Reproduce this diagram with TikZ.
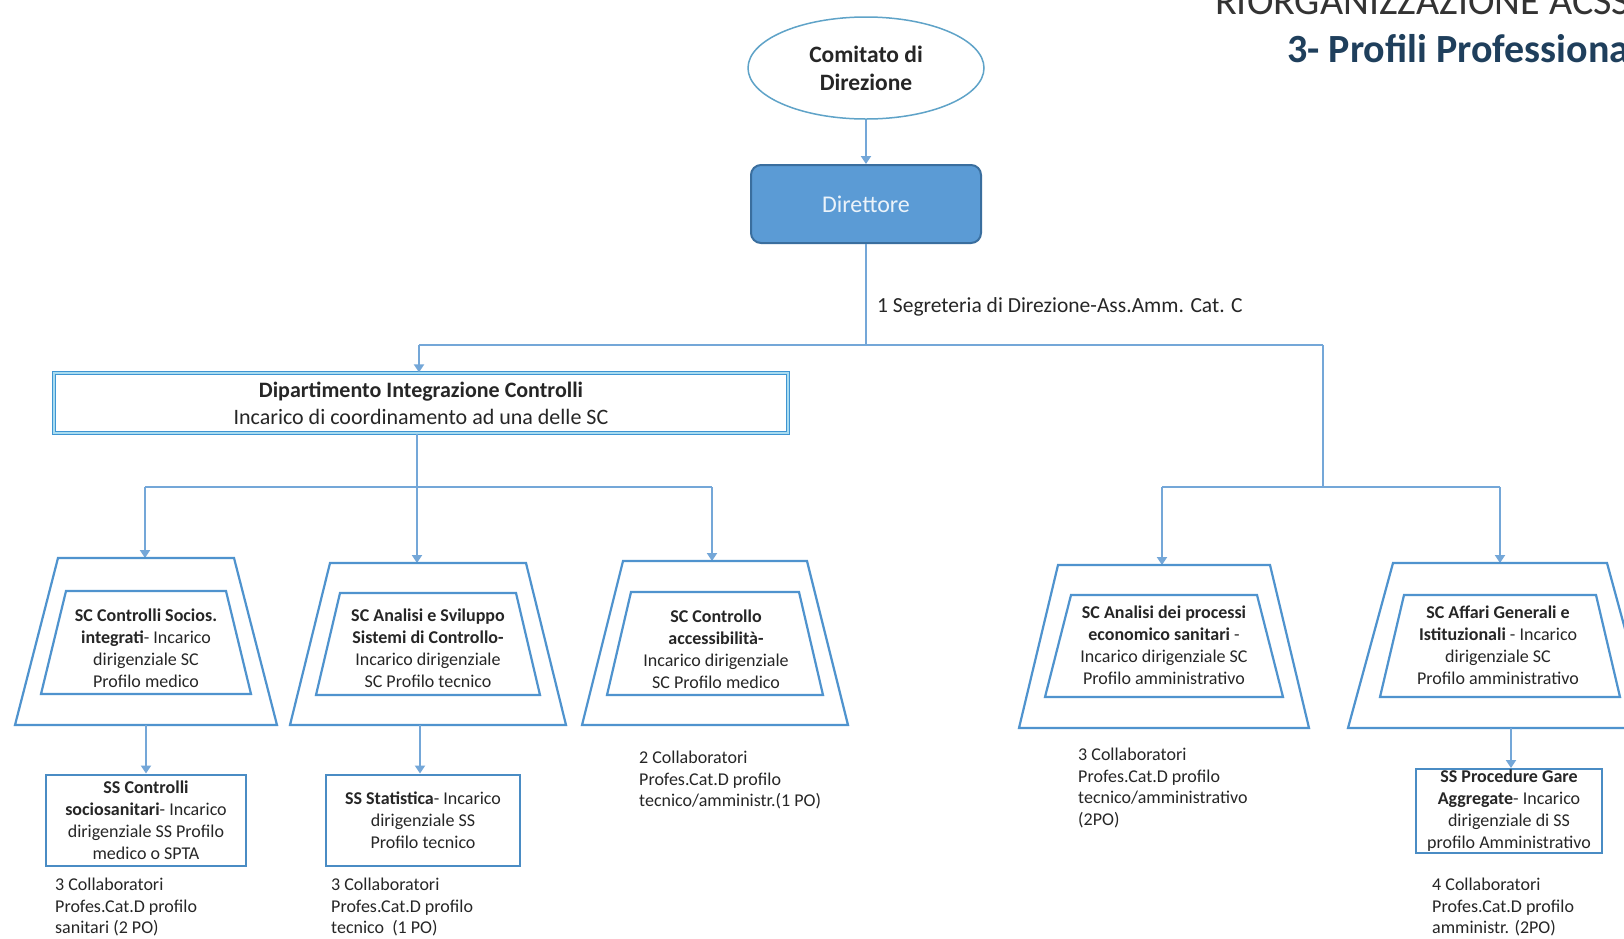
\documentclass[tikz,border=0pt]{standalone}
\usepackage{fontspec}
\setmainfont{Carlito}
\usetikzlibrary{arrows.meta,shapes.geometric}
\definecolor{lineblue}{HTML}{74A7D8}
\definecolor{trapblue}{HTML}{4F93CE}
\definecolor{boxblue}{HTML}{4A8CC4}
\definecolor{dipblue}{HTML}{3F95D2}
\definecolor{dipcyan}{HTML}{A9DCF0}
\definecolor{dirfill}{HTML}{5B9BD5}
\definecolor{dirdraw}{HTML}{3A6E9E}
\definecolor{ellblue}{HTML}{5FA3C8}
\definecolor{txt}{HTML}{262626}
\definecolor{titleblue}{HTML}{1F3F5C}
\newcommand\fs[2]{\fontsize{#1}{#2}\selectfont}
\newcommand\trapz[5]{% cx, top y, bottom y, top half width, bottom half width
  \draw[trapline] ({#1-#4},#2) -- ({#1+#4},#2) -- ({#1+#5},#3) -- ({#1-#5},#3) -- cycle;}
\begin{document}
\begin{tikzpicture}[x=1pt,y=-1pt,
  conn/.style={draw=lineblue,line width=2},
  arr/.style={conn,-{Triangle[length=8,width=10]}},
  trapline/.style={draw=trapblue,line width=2.2,line join=miter},
  intext/.style={align=center,font=\fs{18}{22},text=txt,inner sep=0},
  note/.style={align=left,font=\fs{18}{21.5},text=txt,anchor=north west,inner sep=0},
  ssbox/.style={draw=boxblue,line width=2,align=center,font=\fs{18}{22},text=txt,inner sep=0},
]
\useasboundingbox (0,0) rectangle (1624,938);
\fill[white] (0,0) rectangle (1624,938);

% title
\node[anchor=base west,font=\fs{40}{44},text=black!80,inner sep=0] (title1) at (1215,14) {RIORGANIZZAZIONE ACSS};
\node[anchor=base west,font=\bfseries\fs{40}{44},text=titleblue,inner sep=0] (title2) at (1287,62) {3- Profili Professionali};

% top
\node[ellipse,draw=ellblue,line width=1.5,minimum width=236,minimum height=102,inner sep=0,
      font=\bfseries\fs{23.5}{28},align=center,text=txt] (com) at (866,68) {Comitato di\\Direzione};
\node[rounded corners=10,fill=dirfill,draw=dirdraw,line width=2,minimum width=230,minimum height=78,
      text=white!88!dirfill,font=\fs{24}{28}] (dir) at (866,204) {Direttore};
\draw[arr] (com) -- (dir);

\coordinate (jm) at (866,345);
\coordinate (jl) at (419,345);
\coordinate (jr) at (1323,345);
\draw[conn] (dir) -- (jm);
\draw[conn] (jl) -- (jr);
\node[anchor=west,font=\fs{21.5}{25},inner sep=0,text=txt] (seg) at (877,307) {1 Segreteria di Direzione-Ass.Amm. Cat. C};

% Dipartimento
\node[draw=dipblue,line width=1.3,double=dipcyan,double distance=1.4,minimum width=734,minimum height=60,
      align=center,font=\fs{22}{27},text=txt,inner sep=0] (dip) at (421,403)
      {\textbf{Dipartimento Integrazione Controlli}\\Incarico di coordinamento ad una delle SC};
\draw[arr] (jl) -- (jl |- dip.north);

% left group connectors
\coordinate (dl) at (417,487);
\coordinate (gl1) at (145,487);
\coordinate (gl3) at (712,487);
\draw[conn] (dip.south -| dl) -- (dl);
\draw[conn] (gl1) -- (gl3);
\coordinate (tr1top) at (145,558);
\coordinate (tr2top) at (417,563);
\coordinate (tr3top) at (712,561);
\draw[arr] (gl1) -- (tr1top);
\draw[arr] (dl) -- (tr2top);
\draw[arr] (gl3) -- (tr3top);

% right group connectors
\coordinate (jr2) at (1323,487);
\coordinate (gr1) at (1162,487);
\coordinate (gr2) at (1500,487);
\draw[conn] (jr) -- (jr2);
\draw[conn] (gr1) -- (gr2);
\coordinate (tr4top) at (1162,565);
\coordinate (tr5top) at (1500,563);
\draw[arr] (gr1) -- (tr4top);
\draw[arr] (gr2) -- (tr5top);

% trapezoids
\trapz{146}{558}{725}{88}{131}
\trapz{146}{591}{694}{80}{105}
\trapz{428}{563}{725}{98}{138}
\trapz{428}{593}{695}{88}{112}
\trapz{715}{561}{725}{92}{133}
\trapz{715}{592}{695}{84}{108}
\trapz{1164}{565}{728}{106}{145}
\trapz{1164}{595}{697}{93}{119}
\trapz{1500}{563}{728}{107}{152}
\trapz{1500}{595}{697}{96}{120}

\node[intext] (sc1) at (146,648) {\textbf{SC Controlli Socios.}\\\textbf{integrati}- Incarico\\dirigenziale SC\\Profilo medico};
\node[intext] (sc2) at (428,648) {\textbf{SC Analisi e Sviluppo}\\\textbf{Sistemi di Controllo-}\\Incarico dirigenziale\\SC Profilo tecnico};
\node[intext] (sc3) at (716,649) {\textbf{SC Controllo}\\\textbf{accessibilità-}\\Incarico dirigenziale\\SC Profilo medico};
\node[intext] (sc4) at (1164,645) {\textbf{SC Analisi dei processi}\\\textbf{economico sanitari} -\\Incarico dirigenziale SC\\Profilo amministrativo};
\node[intext] (sc5) at (1498,645) {\textbf{SC Affari Generali e}\\\textbf{Istituzionali} - Incarico\\dirigenziale SC\\Profilo amministrativo};

% SS boxes
\coordinate (tr1bot) at (146,725);
\coordinate (tr2bot) at (420,725);
\coordinate (tr5bot) at (1511,728);
\node[ssbox,minimum width=200,minimum height=91] (ss1) at (146,820)
  {\textbf{SS Controlli}\\\textbf{sociosanitari}- Incarico\\dirigenziale SS Profilo\\medico o SPTA};
\node[ssbox,minimum width=194,minimum height=91] (ss2) at (423,820)
  {\textbf{SS Statistica}- Incarico\\dirigenziale SS\\Profilo tecnico};
\node[ssbox,minimum width=186,minimum height=84] (ss3) at (1509,811)
  {\textbf{SS Procedure Gare}\\\textbf{Aggregate}- Incarico\\dirigenziale di SS\\profilo Amministrativo};
\draw[arr] (tr1bot) -- (tr1bot |- ss1.north);
\draw[arr] (tr2bot) -- (tr2bot |- ss2.north);
\draw[arr] (tr5bot) -- (tr5bot |- ss3.north);

% notes
\node[note] (n1) at (55,878) {3 Collaboratori\\Profes.Cat.D profilo\\sanitari (2 PO)};
\node[note] (n2) at (331,878) {3 Collaboratori\\Profes.Cat.D profilo\\tecnico~ (1 PO)};
\node[note] (n3) at (639,751) {2 Collaboratori\\Profes.Cat.D profilo\\tecnico/amministr.(1 PO)};
\node[note] (n4) at (1078,748) {3 Collaboratori\\Profes.Cat.D profilo\\tecnico/amministrativo\\(2PO)};
\node[note] (n5) at (1432,878) {4 Collaboratori\\Profes.Cat.D profilo\\amministr. (2PO)};
\end{tikzpicture}
\end{document}
